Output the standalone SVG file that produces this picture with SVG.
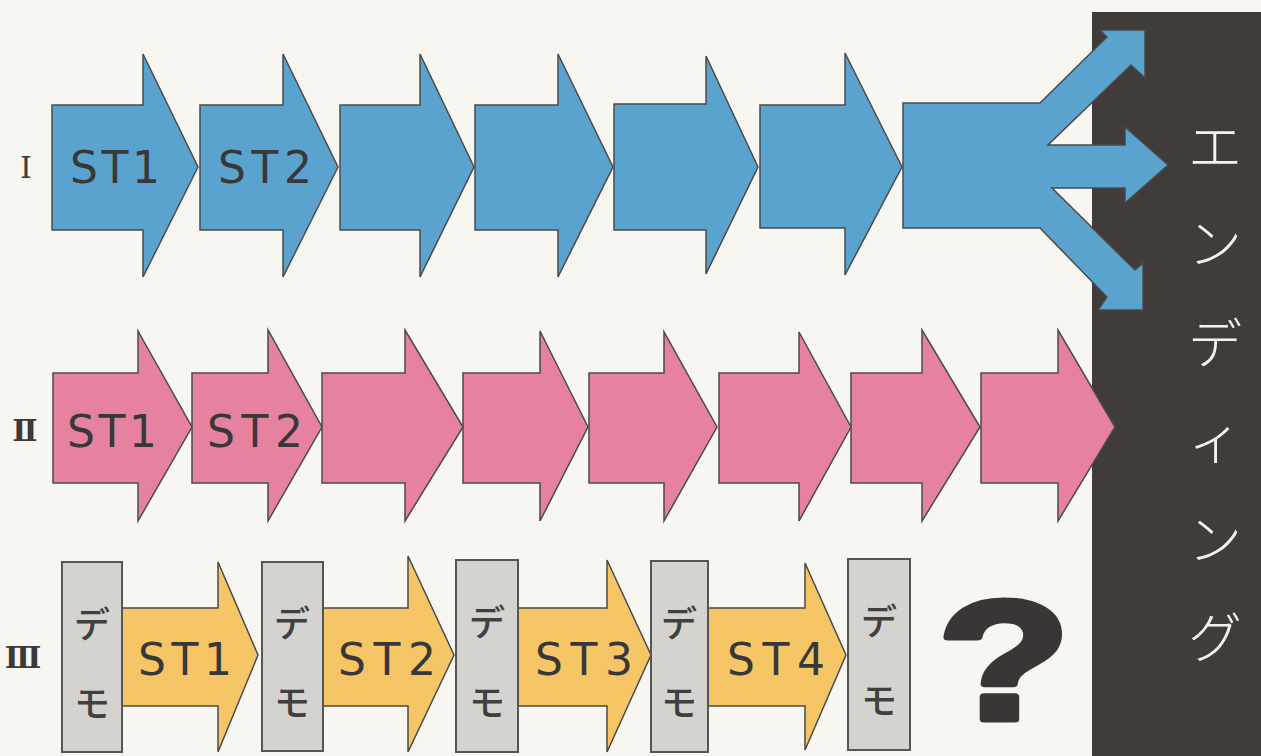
<svg xmlns="http://www.w3.org/2000/svg" width="1261" height="756" viewBox="0 0 1261 756">
<style>
.bl{fill:#5ba3cf;stroke:#4a4a4a;stroke-width:1.5;stroke-linejoin:miter}
.pk{fill:#e6829f;stroke:#4a4a4a;stroke-width:1.5}
.yl{fill:#f5c566;stroke:#4a4a4a;stroke-width:1.5}
.demo{fill:#d4d3cf;stroke:#555;stroke-width:2}
.st{font-family:"DejaVu Sans","Liberation Sans",sans-serif;font-size:44px;fill:#383838;text-anchor:middle}
.dm{font-family:"Noto Sans CJK JP",sans-serif;font-size:36px;fill:#404040;text-anchor:middle;font-weight:500}
.rn{font-family:"DejaVu Serif","Liberation Serif","Noto Sans CJK JP",serif;font-size:30px;fill:#3a3a3a;text-anchor:middle;font-weight:bold}
.end{font-family:"Noto Sans CJK JP",sans-serif;font-size:54px;fill:#f2f2f2;text-anchor:middle;font-weight:300}
</style>
<rect width="1261" height="756" fill="#f7f6f1"/>
<g id="ending">
<rect x="1092" y="12" width="169" height="744" fill="#403c3a"/>
<text class="end"><tspan x="1215" y="167">エ</tspan><tspan x="1215" y="264">ン</tspan><tspan x="1215" y="364">デ</tspan><tspan x="1215" y="460">ィ</tspan><tspan x="1215" y="560">ン</tspan><tspan x="1215" y="658">グ</tspan></text>
</g>
<g id="labels">
<text class="rn" x="26" y="178" style="font-weight:normal">Ⅰ</text>
<text class="rn" x="25" y="441">Ⅱ</text>
<text class="rn" x="23" y="668">Ⅲ</text>
</g>
<g id="route1">
<g id="r1a1"><path class="bl" d="M52,105 H143 V54 L198,167 L143,277 V230 H52 Z"/><text class="st" x="115" y="183" textLength="90" lengthAdjust="spacing">ST1</text></g>
<g id="r1a2"><path class="bl" d="M200,105 H283 V54 L338,167 L283,277 V230 H200 Z"/><text class="st" x="265" y="183" textLength="94" lengthAdjust="spacing">ST2</text></g>
<g id="r1a3"><path class="bl" d="M340,105 H420 V54 L474,167 L420,277 V230 H340 Z"/></g>
<g id="r1a4"><path class="bl" d="M475,105 H558 V54 L613,167 L558,277 V230 H475 Z"/></g>
<g id="r1a5"><path class="bl" d="M614,104 H706 V56 L758,167 L706,274 V230 H614 Z"/></g>
<g id="r1a6"><path class="bl" d="M760,105 H845 V53 L902,167 L845,275 V228 H760 Z"/></g>
<g id="r1a7"><path class="bl" d="M903,103 H1040 L1107,37 L1100,30 H1145 V78 L1131,65 L1048,145 H1125 V127 L1168,165 L1125,203 V188 H1052 L1135,270 L1143,263 V310 H1098 L1107,297 L1040,228 H903 Z"/></g>
</g>
<g id="route2">
<g id="r2a1"><path class="pk" d="M53,373 H138 V331 L192,427 L138,521 V483 H53 Z"/><text class="st" x="112" y="447" textLength="90" lengthAdjust="spacing">ST1</text></g>
<g id="r2a2"><path class="pk" d="M192,373 H268 V330 L322,427 L268,521 V483 H192 Z"/><text class="st" x="255" y="447" textLength="96" lengthAdjust="spacing">ST2</text></g>
<g id="r2a3"><path class="pk" d="M322,373 H405 V330 L463,427 L405,521 V483 H322 Z"/></g>
<g id="r2a4"><path class="pk" d="M463,373 H540 V331 L588,427 L540,521 V483 H463 Z"/></g>
<g id="r2a5"><path class="pk" d="M589,373 H664 V332 L717,427 L664,521 V483 H589 Z"/></g>
<g id="r2a6"><path class="pk" d="M719,373 H799 V332 L851,427 L799,521 V483 H719 Z"/></g>
<g id="r2a7"><path class="pk" d="M851,373 H922 V330 L980,427 L922,521 V483 H851 Z"/></g>
<g id="r2a8"><path class="pk" d="M981,373 H1058 V330 L1115,427 L1058,521 V483 H981 Z"/></g>
</g>
<g id="route3">
<g id="r3a1"><path class="yl" d="M122,608 H218 V562 L258,655 L218,752 V706 H122 Z"/><text class="st" x="185" y="675" textLength="94" lengthAdjust="spacing">ST1</text></g>
<g id="r3a2"><path class="yl" d="M323,608 H408 V556 L454,655 L408,752 V706 H323 Z"/><text class="st" x="387" y="675" textLength="98" lengthAdjust="spacing">ST2</text></g>
<g id="r3a3"><path class="yl" d="M518,608 H607 V560 L651,655 L607,752 V706 H518 Z"/><text class="st" x="584" y="675" textLength="98" lengthAdjust="spacing">ST3</text></g>
<g id="r3a4"><path class="yl" d="M708,608 H805 V563 L846,655 L805,750 V706 H708 Z"/><text class="st" x="776" y="675" textLength="98" lengthAdjust="spacing">ST4</text></g>
<g id="demo1"><rect class="demo" x="62" y="562" width="60" height="190"/><text class="dm" x="92" y="638">デ</text><text class="dm" x="92" y="717">モ</text></g>
<g id="demo2"><rect class="demo" x="262" y="562" width="61" height="189"/><text class="dm" x="292" y="637">デ</text><text class="dm" x="292" y="716">モ</text></g>
<g id="demo3"><rect class="demo" x="456" y="560" width="62" height="192"/><text class="dm" x="487" y="636">デ</text><text class="dm" x="487" y="716">モ</text></g>
<g id="demo4"><rect class="demo" x="651" y="561" width="57" height="191"/><text class="dm" x="679" y="637">デ</text><text class="dm" x="679" y="716">モ</text></g>
<g id="demo5"><rect class="demo" x="848" y="559" width="62" height="191"/><text class="dm" x="879" y="635">デ</text><text class="dm" x="879" y="714">モ</text></g>
</g>
<g id="question">
<text x="1004" y="719" font-family="Liberation Sans, Arial, sans-serif" font-weight="bold" font-size="168" fill="#3a3636" stroke="#3a3636" stroke-width="7" stroke-linejoin="round" text-anchor="middle" textLength="132" lengthAdjust="spacingAndGlyphs">?</text>
</g>
</svg>
